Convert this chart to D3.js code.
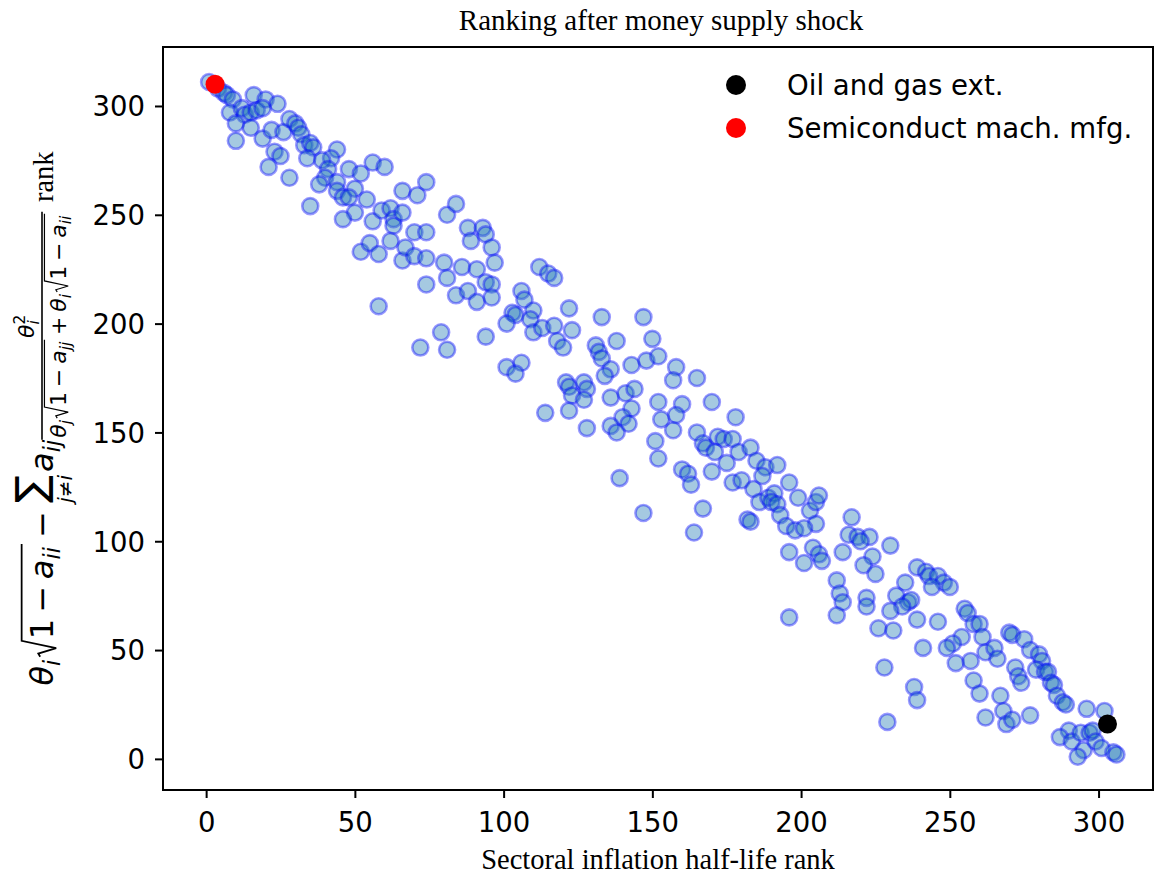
<!DOCTYPE html>
<html><head><meta charset="utf-8">
<script src="https://cdn.jsdelivr.net/npm/d3@7"></script>
<style>body{margin:0;background:#fff}svg{display:block}</style>
</head><body>
<svg id="chart" width="1154" height="877"></svg>
<script>
// Sectoral inflation half-life rank (x) and measure rank (y), one entry per sector
const halfLifeRank = [
  1,4,6,7,9,16,20,24,8,12, 13,15,17,19,10,15,10,19,22,26, 28,30,31,32,33,35,36,34,23,25, 21,28,44,42,39,41,40,38,35,44, 44,48,52,50,46,48,54,56,60,50, 46,56,59,62,63,63,52,55,58,
  66,66,71,74,81,84,70,74,62,66, 67,70,74,80,81,74,86,88,89,93, 94,91,96,97,94,96,84,88,91,96, 58,79,72,81,94,
  112,115,117,106,107,103,104,101,110,109, 110,113,117,118,122,123,120,101,106,104, 121,122,123,127,128,127,114,122,128,131, 132,133,133,
  147,150,138,136,134,143,148,152,158,157, 165,136,141,144,143,140,142,136,138,152, 153,160,158,157,151,152,139,170,178,165, 167,168,172,174,177,171,175,179,183,185, 170,160,162,163,177,180,184,
  188,192,187,186,189,191,190,192,193,196, 199,203,205,206,205,195,198,201,167,182, 183,164,217,216,219,223,147,
  196,204,206,207,201,220,230,214,224,221, 225,212,213,214,212,222,222,196,239,242, 243,246,248,250,244,235,232,236,237,234, 230,239,246,255,256,258,260,226,231,
  254,261,251,249,241,252,257,262,265,266, 258,260,267,262,268,269,271,277,270,271, 275,277,280,281,272,273,274,279,282,283, 284,285,286,288,289,238,239,228,229,296, 302,290,287,291,294,297,298,295,293,299, 301,305,306
];
const measureRank = [
  311,308,306,305,303,305,303,301,297,299, 296,297,298,299,292,290,284,285,289,288, 294,292,290,287,282,283,281,276,279,277, 272,267,280,276,275,271,267,264,254,265, 261,271,269,262,258,258,257,274,272,251, 248,247,252,253,248,245,233,237,232,
  251,261,259,265,250,255,242,242,238,229, 235,231,230,228,221,218,226,244,238,244, 241,225,235,228,219,218,213,215,210,212, 208,196,189,188,194,
  226,223,221,215,211,205,204,200,206,202, 196,198,199,192,207,197,189,180,182,177, 173,171,167,173,170,165,159,160,152,190, 187,184,203,
  203,193,192,179,176,181,183,185,180,174, 175,166,168,170,161,157,154,153,150,164, 156,163,158,151,146,138,129,164,157,150, 145,143,148,147,147,141,136,141,143,137, 132,133,131,126,127,128,124,
  134,135,130,118,120,122,118,117,112,127, 120,114,118,121,108,107,105,106,115,110, 109,104,111,103,102,102,113,
  95,97,94,91,90,100,98,95,93,89, 85,82,76,72,66,74,70,65,88,86, 84,84,81,79,79,81,75,72,73,70, 68,64,63,69,67,62,62,60,59,
  56,56,53,51,51,44,45,49,51,46, 36,30,29,19,22,16,18,20,58,57, 55,50,48,45,42,38,35,41,40,40, 35,34,29,26,25,33,27,42,17,23, 22,13,10,8,12,12,13,4,1,8, 5,3,2
];
// Highlighted sectors
const highlightNames = ["Oil and gas ext.", "Semiconduct mach. mfg."];
const highlightX = [303, 3];
const highlightY = [16, 310];
const highlightColors = ["black", "red"];
const xTicks = [0, 50, 100, 150, 200, 250, 300];
const yTicks = [0, 50, 100, 150, 200, 250, 300];
const titleText = "Ranking after money supply shock";
const xLabelText = "Sectoral inflation half-life rank";

const svg = d3.select("#chart");
const L = 163, R = 1153, T = 47, B = 790;
const x = d3.scaleLinear().domain([-14.5, 318.3]).range([L, R]);
const y = d3.scaleLinear().domain([-14.3, 327.1]).range([B, T]);

const pts = halfLifeRank.map((v, i) => ({x: v, y: measureRank[i]}));
svg.append("g").selectAll("circle").data(pts).join("circle")
  .attr("cx", d => x(d.x)).attr("cy", d => y(d.y)).attr("r", 8)
  .attr("fill", "#1f77b4").attr("fill-opacity", 0.4)
  .attr("stroke", "blue").attr("stroke-opacity", 0.4).attr("stroke-width", 2.6);

const hl = highlightNames.map((n, i) => ({name: n, x: highlightX[i], y: highlightY[i], c: highlightColors[i]}));
svg.append("g").selectAll("circle").data(hl).join("circle")
  .attr("cx", d => x(d.x)).attr("cy", d => y(d.y)).attr("r", 9.5).attr("fill", d => d.c);

// axes
const xAxis = svg.append("g").attr("transform", `translate(0,${B})`)
  .call(d3.axisBottom(x).tickValues(xTicks).tickSize(8).tickPadding(0).tickFormat(d3.format("d")));
xAxis.selectAll("text").attr("y", 42).attr("dy", 0);
const yAxis = svg.append("g").attr("transform", `translate(${L},0)`)
  .call(d3.axisLeft(y).tickValues(yTicks).tickSize(8).tickPadding(10).tickFormat(d3.format("d")));
yAxis.selectAll("text").attr("dy", "0.36em");
[xAxis, yAxis].forEach(a => {
  a.select(".domain").remove();
  a.selectAll("line").attr("stroke", "black").attr("stroke-width", 2);
  a.selectAll("text").attr("font-family", "DejaVu Sans").attr("font-size", 27.5).attr("fill", "black");
});
svg.append("rect").attr("x", L).attr("y", T).attr("width", R - L).attr("height", B - T)
  .attr("fill", "none").attr("stroke", "black").attr("stroke-width", 2);

// title & x label
svg.append("text").attr("x", (L + R) / 2 + 3).attr("y", 30).attr("text-anchor", "middle")
  .attr("font-family", "Liberation Serif").attr("font-size", 29).text(titleText);
svg.append("text").attr("x", (L + R) / 2).attr("y", 869).attr("text-anchor", "middle")
  .attr("font-family", "Liberation Serif").attr("font-size", 28.5).text(xLabelText);

// legend
const lg = svg.append("g");
hl.forEach((d, i) => {
  const cy = 85 + i * 43;
  lg.append("circle").attr("cx", 736).attr("cy", cy).attr("r", 10).attr("fill", d.c);
  lg.append("text").attr("x", 787).attr("y", cy + 10).attr("font-family", "DejaVu Sans")
    .attr("font-size", 27.6).text(d.name);
});

// y label (math expression), laid out horizontally then rotated
const S = 32, D = 22;
const lab = svg.append("g");
let u = 0;
function txt(s, size, opt = {}) {
  const t = lab.append("text").attr("x", opt.x !== undefined ? opt.x : u).attr("y", opt.v || 0)
    .attr("font-family", opt.fam || "DejaVu Sans").attr("font-size", size)
    .attr("font-style", opt.it ? "italic" : "normal").text(s);
  const w = t.node().getComputedTextLength();
  if (opt.x === undefined) u += w;
  return {t, w};
}
function radical(u0, u1, size, base) {
  lab.append("path").attr("fill", "none").attr("stroke", "black").attr("stroke-width", size * 0.055)
    .attr("stroke-linejoin", "miter")
    .attr("d", `M${u0},${base - 0.40 * size} L${u0 + 0.10 * size},${base - 0.46 * size} L${u0 + 0.27 * size},${base + 0.10 * size} L${u0 + 0.50 * size},${base - 0.98 * size} L${u1},${base - 0.98 * size}`);
}
// theta_i sqrt(1 - a_ii)
txt("θ", S, {it: true}); txt("i", 0.7 * S, {it: true, v: 0.22 * S});
u += 3;
let r0 = u; u += 0.55 * S;
txt("1", S); u += 0.2 * S; txt("−", S); u += 0.2 * S;
txt("a", S, {it: true}); txt("ii", 0.7 * S, {it: true, v: 0.22 * S}); u += 3;
radical(r0, u, S, 0);
u += 0.2 * S; txt("−", S); u += 0.25 * S;
// sum with limits below
const s0 = u;
const sig = txt("∑", 1.3 * S, {v: -8});
const sc = s0 + sig.w / 2;
const sub = lab.append("text").attr("x", sc).attr("y", 19).attr("text-anchor", "middle")
  .attr("font-family", "DejaVu Sans").attr("font-size", 20);
sub.append("tspan").attr("font-style", "italic").text("j");
sub.append("tspan").text("≠");
sub.append("tspan").attr("font-style", "italic").text("i");
const sw = sub.node().getComputedTextLength();
u = Math.max(u, sc + sw / 2) + 3;
txt("a", S, {it: true}); txt("ij", 0.7 * S, {it: true, v: 0.22 * S});
// fraction
const fStart = u; u += 2;
const db = 13;
txt("θ", D, {it: true, v: db}); txt("j", 0.7 * D, {it: true, v: db + 0.22 * D}); u += 2;
r0 = u; u += 0.55 * D;
txt("1", D, {v: db}); u += 0.22 * D; txt("−", D, {v: db}); u += 0.22 * D;
txt("a", D, {it: true, v: db}); txt("jj", 0.7 * D, {it: true, v: db + 0.22 * D}); u += 2;
radical(r0, u, D, db);
u += 0.22 * D; txt("+", D, {v: db}); u += 0.22 * D;
txt("θ", D, {it: true, v: db}); txt("i", 0.7 * D, {it: true, v: db + 0.22 * D}); u += 2;
r0 = u; u += 0.55 * D;
txt("1", D, {v: db}); u += 0.22 * D; txt("−", D, {v: db}); u += 0.22 * D;
txt("a", D, {it: true, v: db}); txt("ii", 0.7 * D, {it: true, v: db + 0.22 * D}); u += 2;
radical(r0, u, D, db);
u += 2;
const fEnd = u;
lab.append("line").attr("x1", fStart).attr("x2", fEnd).attr("y1", -11).attr("y2", -11)
  .attr("stroke", "black").attr("stroke-width", 1.6);
// numerator theta_i^2 centred
const nb = -19;
const th = lab.append("text").attr("y", nb).attr("font-family", "DejaVu Sans").attr("font-size", D)
  .attr("font-style", "italic").text("θ");
const thw = th.node().getComputedTextLength();
const nw = thw + 0.7 * D * 0.7;
const n0 = (fStart + fEnd) / 2 - nw / 2;
th.attr("x", n0);
lab.append("text").attr("x", n0 + thw).attr("y", nb - 0.42 * D).attr("font-family", "DejaVu Sans")
  .attr("font-size", 0.7 * D).text("2");
lab.append("text").attr("x", n0 + thw).attr("y", nb + 0.22 * D).attr("font-family", "DejaVu Sans")
  .attr("font-size", 0.7 * D).attr("font-style", "italic").text("i");
u = fEnd + 0.3 * S;
txt("rank", 28.5, {fam: "Liberation Serif"});
const totalLen = u;
lab.attr("transform", `translate(53,${(T + B) / 2 + totalLen / 2}) rotate(-90)`);
</script>
</body></html>
